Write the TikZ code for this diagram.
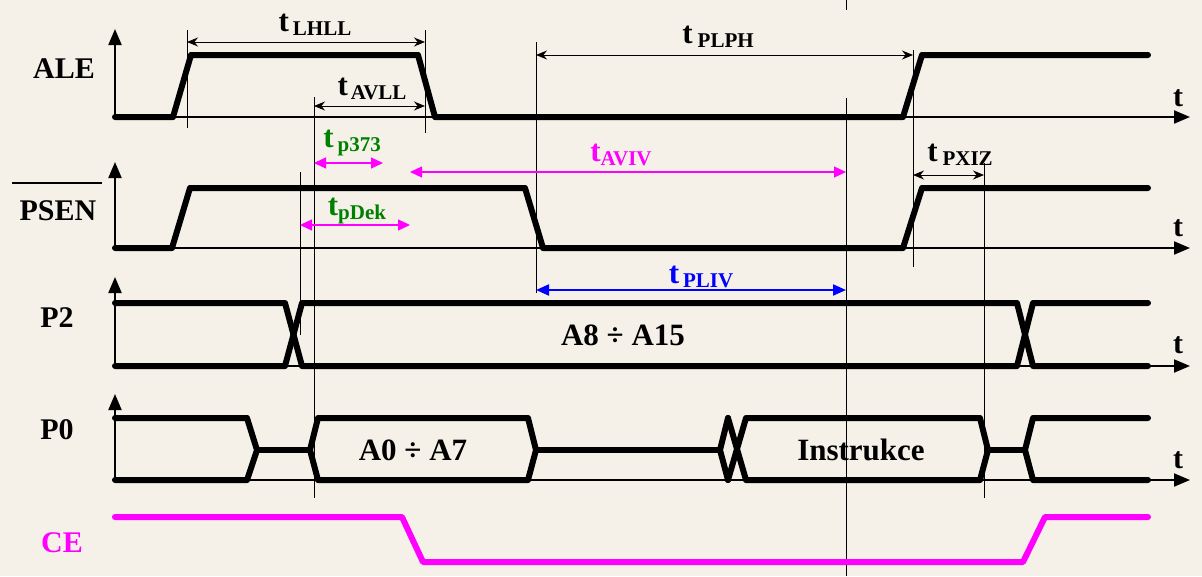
\documentclass[tikz,border=0pt]{standalone}
\usepackage{fontspec}
\setmainfont{Liberation Serif}
\usetikzlibrary{arrows.meta}

\definecolor{paper}{RGB}{245,241,232}
\definecolor{lblgreen}{RGB}{0,128,0}
\definecolor{mag}{RGB}{255,0,255}
\definecolor{blu}{RGB}{0,0,255}

% time label: large "t", optional gap, lowered subscript
\newcommand{\tlbl}[2]{{\fontsize{31}{31}\selectfont t}#1\raisebox{-4pt}{\fontsize{21}{21}\selectfont #2}}

\begin{document}
\begin{tikzpicture}[x=1pt,y=-1pt,
  sig/.style={line width=6pt,line cap=round,line join=round},
  axis/.style={line width=2pt,-{Triangle[length=16pt,width=13pt]}},
  guide/.style={line width=0.8pt},
  dim/.style={line width=1pt,{Stealth[length=11pt,width=9pt]}-{Stealth[length=11pt,width=9pt]}},
  mdim/.style={line width=1.3pt,mag,{Triangle[length=12pt,width=11pt]}-{Triangle[length=12pt,width=11pt]}},
  bdim/.style={line width=2pt,blu,{Triangle[length=13pt,width=11pt]}-{Triangle[length=13pt,width=11pt]}},
  lbl/.style={font=\bfseries\fontsize{30}{30}\selectfont,inner sep=0pt},
  data/.style={font=\bfseries\fontsize{31}{31}\selectfont,inner sep=0pt},
  tx/.style={font=\bfseries,inner sep=0pt}]

% paper
\fill[paper] (0,0) rectangle (1202,576);
\useasboundingbox (0,0) rectangle (1202,576);

% ---- reference lines ----
\draw[guide] (187,30) -- (187,128);
\draw[guide] (425,30) -- (425,133);
\draw[guide] (314,97) -- (314,498);
\draw[guide] (536,42) -- (536,293);
\draw[guide] (913,50) -- (913,267);
\draw[guide] (846,0) -- (846,10);
\draw[guide] (846,98) -- (846,576);
\draw[guide] (300,172) -- (300,335);
\draw[guide] (984,163) -- (984,498);

% ---- axes ----
\foreach \yb/\yt in {117/29, 248/162, 366/277, 480/394} {
  \draw[axis] (115,\yb) -- (115,\yt);
  \draw[axis] (115,\yb) -- (1190,\yb);
}
\node[lbl] (t1) at (1178,98) {t};
\node[lbl] (t2) at (1178,228) {t};
\node[lbl] (t3) at (1178,345) {t};
\node[lbl] (t4) at (1178,460) {t};

% ---- signal names ----
\node[lbl] (ale) at (64,69) {ALE};
\node[lbl] (psen) at (58,211) {PSEN};
\draw[line width=2pt] (12,183) -- (102,183);
\node[lbl] (p2) at (57,318) {P2};
\node[lbl] (p0) at (57,430) {P0};
\node[lbl,text=mag] (ce) at (62,543) {CE};

% ---- ALE ----
\draw[sig] (115,117) -- (173,117) -- (191,55) -- (418,55) -- (435,117)
  -- (903,117) -- (922,55) -- (1148,55);

% ---- PSEN ----
\draw[sig] (115,248) -- (172,248) -- (190,188) -- (525,188) -- (543,248)
  -- (903,248) -- (922,188) -- (1148,188);

% ---- P2 ----
\draw[sig] (115,303) -- (285,303) -- (302,366) -- (1017,366) -- (1033,303) -- (1148,303);
\draw[sig] (115,366) -- (285,366) -- (302,303) -- (1017,303) -- (1033,366) -- (1148,366);
\node[data] (a815) at (623,335) {A8 ÷ A15};

% ---- P0 ----
\draw[sig] (115,418) -- (247,418) -- (257,450) -- (247,480) -- (115,480);
\draw[sig] (257,450) -- (310,450);
\draw[sig] (310,450) -- (318,418) -- (528,418) -- (536,450) -- (528,480) -- (318,480) -- cycle;
\draw[sig] (536,450) -- (720,450);
\draw[sig] (728,418) -- (720,450) -- (728,480);
\draw[sig] (728,418) -- (746,480) -- (980,480) -- (988,450) -- (980,418) -- (746,418) -- (728,480);
\draw[sig] (988,450) -- (1025,450);
\draw[sig] (1148,418) -- (1033,418) -- (1025,450) -- (1033,480) -- (1148,480);
\node[data] (a07) at (413,450) {A0 ÷ A7};
\node[data] (instr) at (861,450) {Instrukce};

% ---- CE ----
\draw[sig,mag] (115,517) -- (402,517) -- (423,562) -- (1023,562) -- (1045,517) -- (1148,517);

% ---- timing parameters ----
\draw[dim] (187,42) -- (425,42);
\node[tx] (lhll) at (315,25) {\tlbl{\hspace{4pt}}{LHLL}};
\draw[dim] (314,106) -- (425,106);
\node[tx] (avll) at (372,89) {\tlbl{\hspace{3pt}}{AVLL}};
\draw[dim] (536,55) -- (913,55);
\node[tx] (plph) at (718,37) {\tlbl{\hspace{5pt}}{PLPH}};

\draw[mdim] (314,163) -- (383,163);
\node[tx,text=lblgreen] (p373) at (352,143) {\tlbl{\hspace{4pt}}{p373}};
\draw[mdim] (300,225) -- (410,225);
\node[tx,text=lblgreen] (pdek) at (357,211) {\tlbl{}{pDek}};
\draw[mdim] (410,172) -- (846,172);
\node[tx,text=mag] (aviv) at (621,155) {\tlbl{}{AVIV}};
\draw[dim] (913,175) -- (984,175);
\node[tx] (pxiz) at (960,155) {\tlbl{\hspace{5pt}}{PXIZ}};

\draw[bdim] (536,290) -- (846,290);
\node[tx,text=blu] (pliv) at (701,277) {\tlbl{\hspace{4pt}}{PLIV}};

\end{tikzpicture}
\end{document}
